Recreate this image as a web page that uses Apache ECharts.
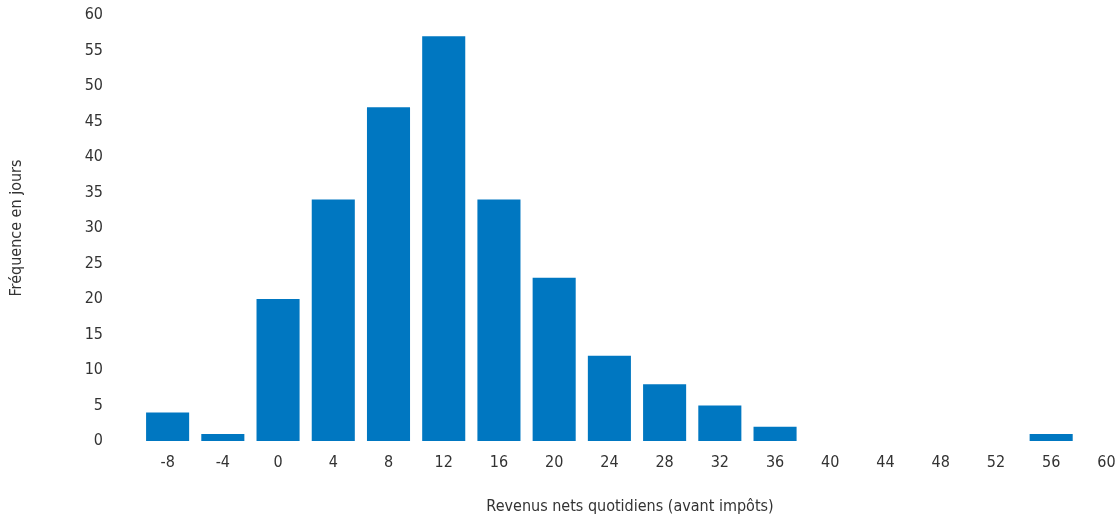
<!DOCTYPE html>
<html>
<head>
<meta charset="utf-8">
<script src="https://cdn.jsdelivr.net/npm/echarts@6/dist/echarts.min.js"></script>
<style>
  html, body { margin: 0; padding: 0; background: #fff; }
  #main { width: 1116px; height: 518px; }
</style>
</head>
<body>
<div id="main"></div>
<script>
  var categories = ['-8', '-4', '0', '4', '8', '12', '16', '20', '24', '28', '32', '36', '40', '44', '48', '52', '56', '60'];
  var frequencies = [4, 1, 20, 34, 47, 57, 34, 23, 12, 8, 5, 2, 0, 0, 0, 0, 1, 0];

  var font = "'Liberation Sans Narrow', 'DejaVu Sans Condensed', sans-serif";
  var textColor = '#333';

  var chart = echarts.init(document.getElementById('main'));

  var option = {
    animation: false,
    grid: {
      left: 140,
      right: -18,
      top: 15,
      bottom: 77,
      outerBoundsMode: 'none',
      containLabel: false
    },
    xAxis: {
      type: 'category',
      data: categories,
      name: 'Revenus nets quotidiens (avant impôts)',
      nameLocation: 'middle',
      nameGap: 58,
      nameTextStyle: {
        fontFamily: font,
        fontSize: 16,
        color: textColor,
        padding: [0, 14, 0, 0]
      },
      axisLine: { show: false },
      axisTick: { show: false },
      axisLabel: {
        margin: 14,
        fontFamily: font,
        fontSize: 16,
        color: textColor
      }
    },
    yAxis: {
      type: 'value',
      min: 0,
      max: 60,
      interval: 5,
      name: 'Fréquence en jours',
      nameLocation: 'middle',
      nameGap: 115,
      nameTextStyle: {
        fontFamily: font,
        fontSize: 16,
        color: textColor
      },
      splitLine: { show: false },
      axisLine: { show: false },
      axisTick: { show: false },
      axisLabel: {
        margin: 37,
        fontFamily: font,
        fontSize: 16,
        color: textColor
      }
    },
    series: [{
      type: 'bar',
      data: frequencies,
      barCategoryGap: '22%',
      itemStyle: { color: '#0077c1' }
    }]
  };

  chart.setOption(option);
</script>
</body>
</html>
